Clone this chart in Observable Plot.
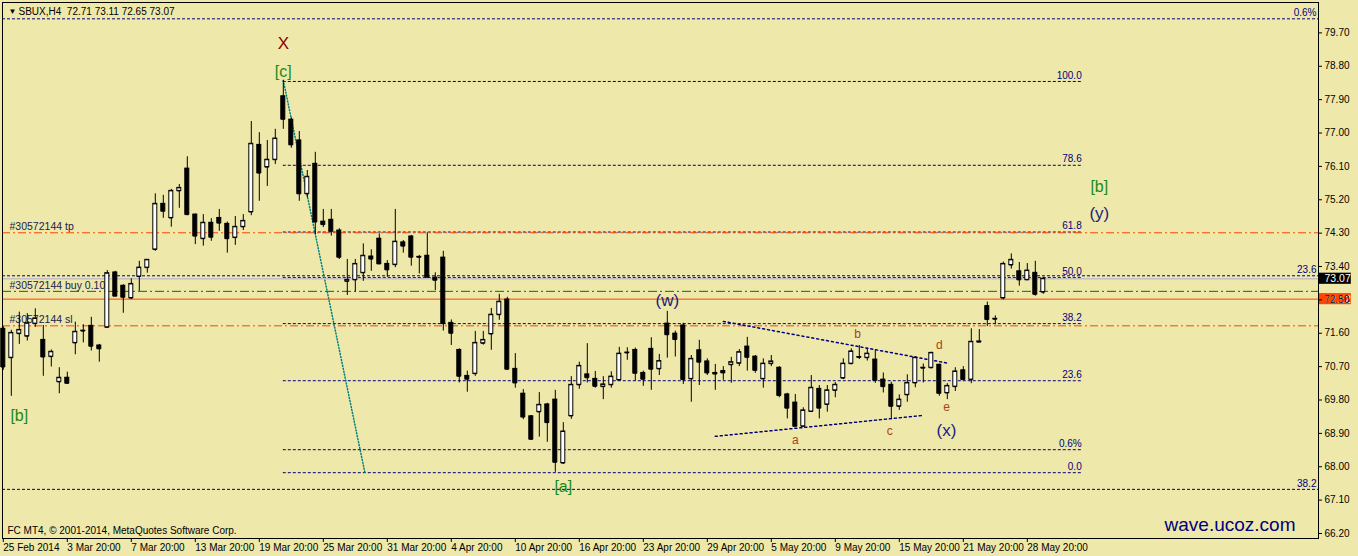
<!DOCTYPE html>
<html><head><meta charset="utf-8">
<script src="https://cdn.jsdelivr.net/npm/d3@7"></script>
<script src="https://cdn.jsdelivr.net/npm/@observablehq/plot@0.6"></script>
<style>
html,body{margin:0;padding:0;background:#EEE8AA;overflow:hidden;}
</style></head><body><div id="chart"></div>
<script>
// ---- data (SBUX, H4) ----
const open = [
71.72,70.94,71.59,71.52,71.86,71.42,70.97,70.29,70.40,71.34,
71.67,71.80,71.27,71.76,73.24,72.88,72.55,73.13,73.37,73.86,
75.09,74.71,75.44,76.04,74.80,74.15,74.58,74.71,74.55,74.18,
74.47,74.87,76.68,76.08,76.28,77.99,77.36,76.80,75.36,76.17,
74.61,74.66,74.37,73.00,73.04,73.23,73.67,74.15,73.47,73.45,
74.05,74.21,73.66,73.69,73.10,73.64,71.88,71.15,70.45,70.51,
71.33,71.58,72.10,72.51,70.64,69.97,69.36,69.48,69.68,69.81,
68.10,69.37,70.21,70.49,70.37,70.16,70.21,70.34,71.07,71.15,
70.53,71.18,70.64,71.86,71.59,71.81,70.37,71.14,70.84,70.53,
70.58,70.75,70.79,71.24,70.97,70.37,70.78,70.67,69.95,69.73,
69.09,69.49,70.10,69.68,70.06,70.39,70.78,70.96,70.94,70.89,
70.35,70.21,69.63,69.94,70.26,70.66,70.67,70.75,69.99,70.16,
70.60,70.35,71.36,72.33,71.98,72.55,73.44,73.27,73.04,73.23,
72.71];
const high = [
71.78,71.68,72.17,72.13,72.26,71.81,71.15,70.67,70.55,71.90,
71.83,72.03,71.30,73.29,73.27,72.91,73.07,73.54,73.58,75.36,
75.32,75.48,75.61,76.36,74.82,74.80,74.69,74.94,74.60,74.75,
74.80,77.31,77.01,76.80,77.10,78.42,77.41,77.04,75.99,76.48,
74.94,74.94,74.42,73.59,73.59,74.01,73.85,74.28,73.56,74.94,
74.10,74.24,73.70,74.31,73.23,73.81,71.96,71.18,70.58,71.65,
71.65,72.27,72.65,72.57,71.05,70.08,69.38,70.00,69.71,70.06,
69.19,70.43,70.82,71.32,70.57,70.43,70.56,71.22,71.21,71.20,
70.58,71.48,71.03,72.19,71.66,71.87,71.00,71.41,70.91,70.76,
70.70,70.95,71.16,71.49,71.00,70.91,71.00,70.70,69.98,69.95,
69.59,70.46,70.19,70.19,70.27,70.91,71.18,71.27,71.18,71.15,
70.53,70.28,69.94,70.48,70.97,70.77,71.09,70.77,70.24,70.67,
70.70,71.72,71.70,72.44,72.07,73.52,73.74,73.51,73.48,73.54,
73.11];
const low = [
70.60,69.90,71.30,71.39,71.76,70.44,70.69,69.97,70.22,71.02,
71.34,71.12,70.82,71.73,72.59,72.14,72.51,72.73,73.22,73.81,
74.70,74.46,74.97,74.77,73.99,73.95,74.08,74.35,73.76,73.97,
74.37,74.77,75.16,75.56,76.15,77.10,76.59,75.16,75.25,74.26,
74.45,74.22,73.59,72.62,72.71,73.00,73.27,73.45,73.11,73.37,
73.76,73.41,73.20,73.10,72.75,71.66,71.27,70.26,70.01,70.44,
71.28,71.14,71.95,70.60,70.12,69.27,68.72,68.80,68.66,67.85,
68.06,69.28,70.09,70.26,70.12,69.81,70.12,70.33,70.87,70.31,
70.17,70.06,70.46,70.93,70.96,70.22,69.74,70.19,70.46,70.06,
70.33,70.25,70.70,70.58,70.52,70.12,70.70,69.86,69.29,69.08,
69.07,69.47,69.29,69.47,69.86,70.35,70.75,70.89,70.85,70.25,
69.99,69.27,69.52,69.74,70.13,70.26,70.64,69.90,69.81,70.03,
70.33,70.24,71.36,71.78,71.83,72.50,73.33,72.87,73.03,72.60,
72.65];
const close = [
70.69,71.61,71.69,71.87,72.00,70.96,71.10,70.40,70.25,71.64,
71.66,71.25,71.18,73.22,72.60,72.57,72.93,73.37,73.58,75.09,
74.89,75.44,75.52,74.80,74.22,74.58,74.19,74.57,74.15,74.47,
74.63,76.71,75.92,76.28,76.85,77.37,76.68,75.36,75.82,74.60,
74.53,74.35,73.65,73.04,73.47,73.69,73.60,73.47,73.31,74.07,
73.95,73.65,73.65,73.11,73.03,71.86,71.60,70.44,70.36,71.34,
71.42,72.10,72.45,70.63,70.26,69.34,68.74,69.67,69.19,68.12,
68.95,70.21,70.72,70.40,70.17,70.22,70.43,71.05,71.08,70.52,
70.36,70.63,70.85,71.56,71.43,70.35,70.91,70.82,70.53,70.50,
70.53,70.82,71.09,70.95,70.60,70.78,70.84,69.92,69.58,69.09,
69.52,70.13,69.58,70.06,70.21,70.78,71.11,70.95,71.05,70.33,
70.16,69.63,69.81,70.26,70.94,70.67,71.07,69.98,70.18,70.57,
70.35,71.37,71.38,71.97,71.99,73.47,73.58,73.04,73.29,72.65,
73.07];

const timeLabels = ["25 Feb 2014","3 Mar 20:00","7 Mar 20:00","13 Mar 20:00","19 Mar 20:00",
  "25 Mar 20:00","31 Mar 20:00","4 Apr 20:00","10 Apr 20:00","16 Apr 20:00","23 Apr 20:00",
  "29 Apr 20:00","5 May 20:00","9 May 20:00","15 May 20:00","21 May 20:00","28 May 20:00"];
const timeTickBars = timeLabels.map((_, i) => i * 8);
const priceTicks = [66.2,67.1,68.0,68.9,69.8,70.7,71.6,72.5,73.4,74.3,75.2,76.1,77.0,77.9,78.8,79.7];

// Fibonacci retracement from [c] high to [a] low
const fibLevels = [78.39, 76.13, 74.33, 73.10, 71.86, 70.32, 68.46, 67.84];
const fibNames  = ["100.0","78.6","61.8","50.0","38.2","23.6","0.6%","0.0"];
const fibStartBar = 35, fibEndBar = 134.8;
const fibBase = [[35, 78.42], [45.2, 67.84]];
// full-width levels (second fibo)
const rayLevels = [80.08, 73.15, 67.39];
const rayNames  = ["0.6%", "23.6", "38.2"];

// order lines
const orderId = "#30572144";
const tpPrice = 74.31, buyPrice = 72.73, slPrice = 71.80;
const askPrice = 72.52, bidPrice = 73.07;

// triangle (x) trend lines
const triUpper = [[90, 71.92], [117.9, 70.80]];
const triLower = [[89, 68.82], [114.8, 69.38]];

// wave labels
const greenLabels = ["[c]", "[b]", "[a]", "[b]"];
const greenBars   = [35, 2, 70, 137];
const greenPrices = [78.66, 69.36, 67.45, 75.56];
const navyLabels  = ["(w)", "(x)", "(y)"];
const navyBars    = [83, 117.9, 137];
const navyPrices  = [72.48, 68.98, 74.83];
const xLabel = ["X"], xBars = [35], xPrices = [79.42];
const minorLabels = ["a", "b", "c", "d", "e"];
const minorBars   = [99, 106.8, 110.8, 117, 117.9];
const minorPrices = [68.71, 71.57, 68.95, 71.27, 69.62];

const header = "SBUX,H4  72.71 73.11 72.65 73.07";
const copyright = "FC MT4, \u00A9 2001-2014, MetaQuotes Software Corp.";
const site = "wave.ucoz.com";

// ---- build ----
const bars = open.map((o, i) => ({i, o, h: high[i], l: low[i], c: close[i]}));
const bulls = bars.filter(d => d.c >= d.o);
const bears = bars.filter(d => d.c < d.o);
const NAVY = "#000080", ORANGE = "#FF4500", GREEN = "#007800";
const FONT = "'Liberation Sans', Arial, sans-serif";
const hw = 0.25;

const chart = Plot.plot({
  width: 1358, height: 556,
  marginLeft: 2, marginRight: 40, marginTop: 2, marginBottom: 18,
  style: {background: "#EEE8AA", fontFamily: FONT, fontSize: "10px", color: "black"},
  x: {type: "linear", domain: [-0.1, 164.4]},
  y: {type: "linear", domain: [66.065, 80.52]},
  marks: [
    // full-width levels
    Plot.ruleY(rayLevels, {y: d => d, stroke: NAVY, strokeDasharray: "3,2"}),
    Plot.text(rayLevels, {y: d => d, text: (d, i) => rayNames[i], frameAnchor: "right", dx: -2, dy: -6, textAnchor: "end", fill: NAVY, fontSize: 10}),
    // fib levels
    Plot.ruleY(fibLevels, {y: d => d, x1: () => fibStartBar, x2: () => fibEndBar, stroke: NAVY, strokeDasharray: "3,2"}),
    Plot.text(fibLevels, {y: d => d, x: () => fibEndBar, text: (d, i) => fibNames[i], textAnchor: "end", dy: -6, fill: NAVY, fontSize: 10}),
    Plot.line(fibBase, {x: d => d[0], y: d => d[1], stroke: "#008080", strokeDasharray: "1,2"}),
    // order lines
    Plot.ruleY([tpPrice, slPrice], {y: d => d, stroke: ORANGE, strokeDasharray: "8,3,2,3"}),
    Plot.ruleY([buyPrice], {y: d => d, stroke: GREEN, strokeDasharray: "9,3,2,3"}),
    Plot.ruleY([bidPrice], {y: d => d, stroke: "#C0C0C0", strokeWidth: 1.5}),
    Plot.ruleY([askPrice], {y: d => d, stroke: ORANGE}),
    Plot.text([[tpPrice, " tp"], [buyPrice, " buy 0.10"], [slPrice, " sl"]], {
      y: d => d[0], text: d => orderId + d[1], frameAnchor: "left", dx: 7, dy: -6, textAnchor: "start", fill: "#202050", fontSize: 10.5}),
    // triangle
    Plot.line(triUpper, {x: d => d[0], y: d => d[1], stroke: NAVY, strokeDasharray: "2,3"}),
    Plot.line(triLower, {x: d => d[0], y: d => d[1], stroke: NAVY, strokeDasharray: "2,3"}),
    // candles
    Plot.ruleX(bars, {x: "i", y1: "l", y2: "h", stroke: "black"}),
    Plot.rect(bulls, {x1: d => d.i - hw, x2: d => d.i + hw, y1: "o", y2: "c", fill: "white", stroke: "black"}),
    Plot.rect(bears, {x1: d => d.i - hw, x2: d => d.i + hw, y1: "o", y2: "c", fill: "black", stroke: "black"}),
    Plot.ruleY(bars, {y: "o", x1: d => d.i - hw, x2: d => d.i + hw, stroke: "black"}),
    Plot.ruleY(bars, {y: "c", x1: d => d.i - hw, x2: d => d.i + hw, stroke: "black"}),
    // wave labels
    Plot.text(xLabel, {x: (d, i) => xBars[i], y: (d, i) => xPrices[i], text: d => d, fill: "#8B0000", fontSize: 17}),
    Plot.text(greenLabels, {x: (d, i) => greenBars[i], y: (d, i) => greenPrices[i], text: d => d, fill: "#1A8A1A", fontSize: 16}),
    Plot.text(navyLabels, {x: (d, i) => navyBars[i], y: (d, i) => navyPrices[i], text: d => d, fill: "#1C1C80", fontSize: 17}),
    Plot.text(minorLabels, {x: (d, i) => minorBars[i], y: (d, i) => minorPrices[i], text: d => d, fill: "#A8401C", fontSize: 12}),
    // price tags on the axis
    Plot.rect([bidPrice], {x1: () => 164.45, x2: () => 168.5, y1: d => d - 0.15, y2: d => d + 0.15, fill: "black"}),
    Plot.rect([askPrice], {x1: () => 164.45, x2: () => 168.5, y1: d => d - 0.15, y2: d => d + 0.15, fill: ORANGE}),
    Plot.text([bidPrice, askPrice], {y: d => d, text: d => d.toFixed(2), frameAnchor: "right", dx: 6, textAnchor: "start", fill: "white", fontSize: 10.5}),
    // header / captions
    Plot.text(["\u25BC"], {text: d => d, frameAnchor: "top-left", dx: 6, dy: 9, lineAnchor: "middle", textAnchor: "start", fontSize: 8}),
    Plot.text([header], {text: d => d, frameAnchor: "top-left", dx: 16, dy: 9, lineAnchor: "middle", textAnchor: "start", fontSize: 10, whiteSpace: "pre"}),
    Plot.text([copyright], {text: d => d, frameAnchor: "bottom-left", dx: 5, dy: -8, lineAnchor: "middle", textAnchor: "start", fontSize: 10}),
    Plot.text([site], {text: d => d, frameAnchor: "bottom-right", dx: -23, dy: -14, lineAnchor: "middle", textAnchor: "end", fill: NAVY, fontSize: 19}),
    // axes + frame
    Plot.axisY({anchor: "right", ticks: priceTicks, tickFormat: d => d.toFixed(2), tickSize: 3, tickPadding: 3, label: null, fontSize: 10}),
    Plot.axisX({anchor: "bottom", ticks: timeTickBars, tickFormat: d => timeLabels[Math.round(d / 8)], tickSize: 4, tickPadding: 1, textAnchor: "start", label: null, fontSize: 10}),
    Plot.frame({stroke: "black"})
  ]
});
document.getElementById("chart").appendChild(chart);
</script>
</body></html>
